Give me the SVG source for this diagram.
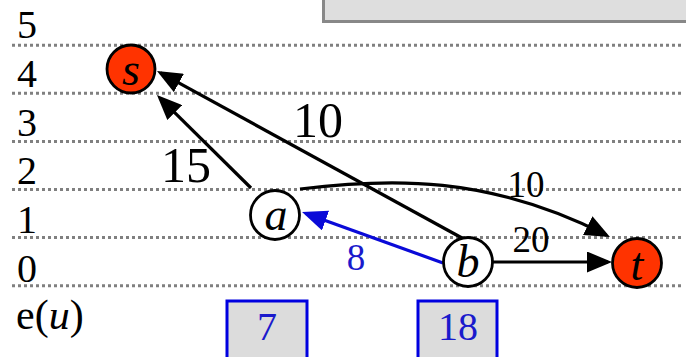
<svg xmlns="http://www.w3.org/2000/svg" width="686" height="357" viewBox="0 0 686 357">
<defs>
<style>
.grid{stroke:#808080;stroke-width:3;stroke-dasharray:3 3;fill:none}
.lbl{font-family:"Liberation Serif","Times New Roman",serif;fill:#000}
.ax{font-size:40px;text-anchor:middle}
.big{font-size:50px;text-anchor:middle}
.sm{font-size:37px;text-anchor:middle}
.blue{fill:#1a1acc}
.edge{stroke:#000;stroke-width:3.2;fill:none;marker-end:url(#ah)}
.bedge{stroke:#0a0ad8;stroke-width:3.2;fill:none;marker-end:url(#ahb)}
.node{stroke:#000;stroke-width:2.8}
.nl{font-family:"Liberation Serif","Times New Roman",serif;font-style:italic;font-size:46px;text-anchor:middle;fill:#000}
.box{fill:#dcdcdc;stroke:#0000e0;stroke-width:3}
</style>
<marker id="ah" markerUnits="userSpaceOnUse" markerWidth="25" markerHeight="21" refX="21" refY="10.5" orient="auto" viewBox="0 0 25 21">
<path d="M0,0 L25,10.5 L0,21 z" fill="#000"/>
</marker>
<marker id="ahb" markerUnits="userSpaceOnUse" markerWidth="25" markerHeight="21" refX="21" refY="10.5" orient="auto" viewBox="0 0 25 21">
<path d="M0,0 L25,10.5 L0,21 z" fill="#0a0ad8"/>
</marker>
</defs>
<rect x="323.5" y="-10" width="380" height="31.5" fill="#dedede" stroke="#888" stroke-width="3"/>
<g id="grid">
<line class="grid" x1="12" y1="45.2" x2="682" y2="45.2"/>
<line class="grid" x1="12" y1="93.3" x2="682" y2="93.3"/>
<line class="grid" x1="12" y1="141.4" x2="682" y2="141.4"/>
<line class="grid" x1="12" y1="189.5" x2="682" y2="189.5"/>
<line class="grid" x1="12" y1="237.6" x2="682" y2="237.6"/>
<line class="grid" x1="12" y1="285.7" x2="682" y2="285.7"/>
</g>
<g id="axis">
<text class="lbl ax" x="27" y="38">5</text>
<text class="lbl ax" x="27" y="87">4</text>
<text class="lbl ax" x="27" y="136">3</text>
<text class="lbl ax" x="27" y="184">2</text>
<text class="lbl ax" x="27" y="233">1</text>
<text class="lbl ax" x="27" y="282">0</text>
<text class="lbl" x="16" y="329" font-size="42">e(<tspan font-style="italic">u</tspan>)</text>
</g>
<g id="connectors">
<path class="edge" d="M251,188 L159.8,97.8"/>
<path class="edge" d="M462,238 L160.5,72.9"/>
<path class="edge" d="M300,189 C390,178 488,175 606.4,235.2"/>
<path class="edge" d="M493,262 L608,262"/>
<path class="bedge" d="M443,263 L305.8,213.4"/>
<text class="lbl big" x="186" y="182">15</text>
<text class="lbl big" x="318" y="137">10</text>
<text class="lbl sm" x="526" y="197">10</text>
<text class="lbl sm" x="531" y="252">20</text>
<text class="lbl sm blue" x="356" y="270">8</text>
</g>
<g id="node-s">
<circle class="node" cx="131" cy="69" r="24" fill="#ff3300"/>
<text class="nl" x="131" y="85">s</text>
</g>
<g id="node-a">
<circle class="node" cx="275" cy="215" r="24.5" fill="#fff"/>
<text class="nl" x="276" y="230">a</text>
</g>
<g id="node-b">
<circle class="node" cx="468" cy="262" r="24.5" fill="#fff"/>
<text class="nl" x="468" y="277">b</text>
</g>
<g id="node-t">
<circle class="node" cx="637" cy="263" r="24.5" fill="#ff3300"/>
<text class="nl" x="637" y="280">t</text>
</g>
<g id="box-a">
<rect class="box" x="227" y="301" width="80" height="60"/>
<text class="lbl ax blue" x="267" y="340">7</text>
</g>
<g id="box-b">
<rect class="box" x="418" y="301" width="79" height="60"/>
<text class="lbl ax blue" x="458" y="340">18</text>
</g>
</svg>
